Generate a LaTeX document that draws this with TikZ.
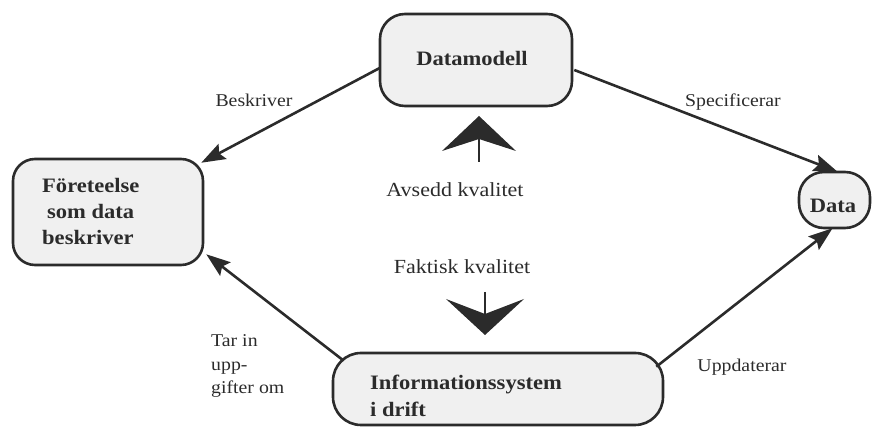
\documentclass[tikz,border=0pt]{standalone}
\usepackage{fontspec}
\setmainfont{Liberation Serif}[FakeStretch=1.1]
\usetikzlibrary{arrows.meta,calc}
\definecolor{ink}{HTML}{2B2B2B}
\definecolor{boxfill}{HTML}{F0F0F0}
\begin{document}
\begin{tikzpicture}[x=1pt,y=1pt,
  box/.style={draw=ink,fill=boxfill,line width=2.6pt,inner sep=0pt},
  conn/.style={draw=ink,line width=2.6pt,
    -{Stealth[length=24pt,width=17pt,inset=4pt]}},
  boldlbl/.style={text=ink,font=\fontsize{20.5}{24}\selectfont\bfseries,inner sep=0pt},
  edgelbl/.style={text=ink,font=\fontsize{18}{22}\selectfont,inner sep=0pt,anchor=base},
  midlbl/.style={text=ink,font=\fontsize{20}{24}\selectfont,inner sep=0pt,anchor=base},
  bigarrow/.style={fill=ink,draw=none},
  stem/.style={draw=ink,line width=2pt}]
\useasboundingbox (0,0) rectangle (876,428);

% boxes
\node[box,rounded corners=25pt,minimum width=192pt,minimum height=92pt] (dm) at (476,368) {};
\node[box,rounded corners=22pt,minimum width=190pt,minimum height=106pt] (fe) at (108,216) {};
\node[box,rounded corners=25pt,minimum width=71pt,minimum height=56pt] (da) at (834.5,228) {};
\node[box,rounded corners=28pt,minimum width=330pt,minimum height=72pt] (is) at (498,39) {};

% box texts
\node[boldlbl,anchor=base] (dmt) at (472,362) {Datamodell};
\node[boldlbl,anchor=base west] (fe1) at (42,235) {Företeelse};
\node[boldlbl,anchor=base west] (fe2) at (47,209) {som data};
\node[boldlbl,anchor=base west] (fe3) at (42,183) {beskriver};
\node[boldlbl,anchor=base] (dat) at (833,215) {Data};
\node[boldlbl,anchor=base west] (is1) at (370,38) {Informationssystem};
\node[boldlbl,anchor=base west] (is2) at (370,11) {i drift};

% connectors
\draw[conn] ($(dm.west)+(1,-8)$) -- ($(fe.north east)+(-3,-5)$);
\draw[conn] ($(dm.east)+(1,-10)$) -- ($(da.north)+(3,-1)$);
\draw[conn] ($(is.north west)+(12,-9)$) -- ($(fe.south east)+(2,12)$);
\draw[conn] ($(is.north east)+(-8,-15)$) -- ($(da.south)+(-2,1)$);

% connector labels
\node[edgelbl] (lb1) at (254,321) {Beskriver};
\node[edgelbl] (lb2) at (733,321) {Specificerar};
\node[edgelbl] (lb3) at (742,56) {Uppdaterar};
\node[edgelbl,anchor=base west] (lb4a) at (211,81) {Tar in};
\node[edgelbl,anchor=base west] (lb4b) at (211,57) {upp-};
\node[edgelbl,anchor=base west] (lb4c) at (211,34) {gifter om};

% quality arrows
\node[midlbl] (avs) at (455,231) {Avsedd kvalitet};
\node[midlbl] (fak) at (462,154) {Faktisk kvalitet};
\draw[stem] (479,290) -- (479,266);
\fill[bigarrow] (479,312) -- (516,277) -- (479,289) -- (442,277) -- cycle;
\draw[stem] (485,136) -- (485,112);
\fill[bigarrow] (485,93) -- (524,129) -- (485,114) -- (446,129) -- cycle;
\end{tikzpicture}
\end{document}
